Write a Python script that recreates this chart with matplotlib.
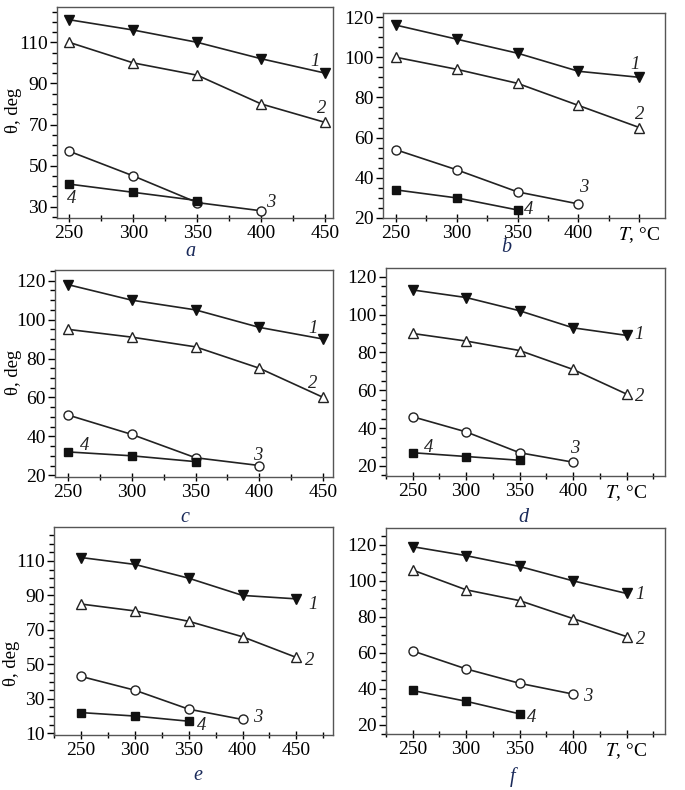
import matplotlib
matplotlib.use("Agg")
import matplotlib.pyplot as plt
from matplotlib.ticker import MultipleLocator, FixedLocator

plt.rcParams['font.family'] = ['Liberation Serif', 'DejaVu Serif']
plt.rcParams['mathtext.fontset'] = 'stix'

T4 = [250, 300, 350, 400, 450]

# Panel data: curves 1..4 (contact angle, deg)
a1 = [121, 116, 110, 102, 95]
a2 = [110, 100, 94, 80, 71]
a3 = [57, 45, 32, 28]
a4 = [41, 37, 33]

b1 = [116, 109, 102, 93, 90]
b2 = [100, 94, 87, 76, 65]
b3 = [54, 44, 33, 27]
b4 = [34, 30, 24]

c1 = [118, 110, 105, 96, 90]
c2 = [95, 91, 86, 75, 60]
c3 = [51, 41, 29, 25]
c4 = [32, 30, 27]

d1 = [113, 109, 102, 93, 89]
d2 = [90, 86, 81, 71, 58]
d3 = [46, 38, 27, 22]
d4 = [27, 25, 23]

e1 = [112, 108, 100, 90, 88]
e2 = [85, 81, 75, 66, 54]
e3 = [43, 35, 24, 18]
e4 = [22, 20, 17]

f1 = [119, 114, 108, 100, 93]
f2 = [106, 95, 89, 79, 69]
f3 = [61, 51, 43, 37]
f4 = [39, 33, 26]

panel_names = ['a', 'b', 'c', 'd', 'e', 'f']
curve_names = ['1', '2', '3', '4']
xtick_vals = [250, 300, 350, 400, 450]
xtick_labels_left = ['250', '300', '350', '400', '450']
xtick_labels_right = ['250', '300', '350', '400', '$T$, °C']
ylabel = 'θ, deg'

data = {
    'a': [a1, a2, a3, a4], 'b': [b1, b2, b3, b4], 'c': [c1, c2, c3, c4],
    'd': [d1, d2, d3, d4], 'e': [e1, e2, e3, e4], 'f': [f1, f2, f3, f4],
}

# layout (pixels in 685x790 figure)
W, H = 685, 790
boxes = {
    'a': (57, 7, 333, 218), 'b': (383, 13, 665, 218),
    'c': (55, 270, 333, 477), 'd': (386, 268, 665, 476),
    'e': (54, 527, 333, 735), 'f': (386, 528, 665, 734),
}
xlims = {'a': (240.5, 456), 'b': (239.6, 471), 'c': (240, 457.6),
         'd': (225, 486), 'e': (225, 484), 'f': (225, 486)}
ylims = {'a': (24.5, 127.2), 'b': (20, 122), 'c': (19.1, 125.5),
         'd': (14.7, 124.6), 'e': (9, 129.7), 'f': (14.8, 129.4)}
yticks = {'a': [30, 50, 70, 90, 110], 'e': [10, 30, 50, 70, 90, 110]}
label_pos = {
    'a': [(442, 100.6), (447, 77.9), (407, 32.2), (252, 33.9)],
    'b': [(446, 96.3), (450, 71.4), (404, 35), (359, 24.1)],
    'c': [(442, 95.5), (442, 67.2), (399, 30.3), (263, 35.4)],
    'd': [(462, 89.5), (462, 56.5), (402, 29.2), (265, 29.5)],
    'e': [(465, 84.5), (462, 52), (414, 19), (362, 14.8)],
    'f': [(463, 92.2), (463, 67.2), (414, 35.7), (361, 24)],
}
sub_pos = {'a': (190, 256), 'b': (506, 252), 'c': (185, 522),
           'd': (523, 522), 'e': (198, 780), 'f': (513, 782)}
ylabel_x = {'a': 14, 'c': 13, 'e': 12}
ylabel_y = {'a': 110, 'c': 372, 'e': 663}

styles = [
    dict(marker='v', mfc='#111111', mec='#111111', ms=7),
    dict(marker='^', mfc='white', mec='#222222', ms=7),
    dict(marker='o', mfc='white', mec='#222222', ms=6.5),
    dict(marker='s', mfc='#111111', mec='#111111', ms=5.5),
]

fig = plt.figure(figsize=(W / 100, H / 100), dpi=100)
for p in panel_names:
    l, t, r, b = boxes[p]
    ax = fig.add_axes([l / W, 1 - b / H, (r - l) / W, (b - t) / H])
    for i, ys in enumerate(data[p]):
        xs = T4[:len(ys)]
        ax.plot(xs, ys, color='#222222', lw=1.2, mew=1.0,
                zorder=3, **styles[i])
        lx, ly = label_pos[p][i]
        ax.text(lx, ly, curve_names[i], fontsize=13.5, style='italic',
                ha='center', va='center', color='#222222')
    ax.set_xlim(*xlims[p])
    ax.set_ylim(*ylims[p])
    ax.xaxis.set_major_locator(FixedLocator(xtick_vals))
    ax.xaxis.set_minor_locator(MultipleLocator(25))
    if p in ('a', 'c', 'e'):
        ax.set_xticklabels(xtick_labels_left)
        ax.set_ylabel(ylabel, fontsize=13.5, va='center', ha='center')
        ax.yaxis.set_label_coords(ylabel_x[p] / W, 1 - ylabel_y[p] / H,
                                  transform=fig.transFigure)
    else:
        ax.set_xticklabels(xtick_labels_right)
    if p in yticks:
        ax.yaxis.set_major_locator(FixedLocator(yticks[p]))
    else:
        ax.yaxis.set_major_locator(MultipleLocator(20))
    ax.yaxis.set_minor_locator(MultipleLocator(5))
    ax.tick_params(axis='x', which='major', direction='inout', length=6,
                   width=1.0, labelsize=14, pad=2)
    ax.tick_params(axis='x', which='minor', direction='inout', length=4, width=1.0)
    ax.tick_params(axis='y', which='major', direction='out', length=5,
                   width=1.0, labelsize=14, pad=1.5)
    ax.tick_params(axis='y', which='minor', direction='out', length=3.5, width=1.0)
    for s in ax.spines.values():
        s.set_color('#555555')
        s.set_linewidth(1.0)
    sx, sy = sub_pos[p]
    fig.text(sx / W, 1 - sy / H, p, fontsize=14.5, style='italic',
             color='#1a2a5a', ha='center', va='baseline')

fig.savefig('out.png', dpi=100)
